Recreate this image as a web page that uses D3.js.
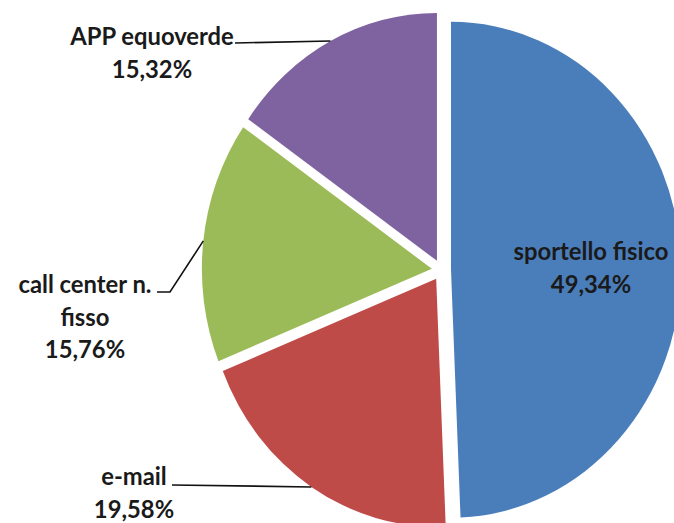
<!DOCTYPE html>
<html>
<head>
<meta charset="utf-8">
<script src="https://cdn.jsdelivr.net/npm/d3@7"></script>
<style>
  body { margin: 0; background: #fff; }
  svg { display: block; }
  .lbl { font-family: Lato, "Open Sans", sans-serif; font-weight: bold; fill: #1a1a1a; }
</style>
</head>
<body>
<svg id="chart"></svg>
<script>
// data
var categories = ["sportello fisico", "e-mail", "call center n. fisso", "APP equoverde"];
var labelLines = [["sportello fisico"], ["e-mail"], ["call center n.", "fisso"], ["APP equoverde"]];
var values = [49.34, 19.58, 15.76, 15.32];
var colors = ["#4a7ebb", "#be4b48", "#9bbb59", "#7f63a1"];

var width = 674, height = 523,
    cx = 441.4, cy = 270,
    radius = 230, stretchY = 1.078,
    explode = 9.6,
    lineH = 32.5,
    fontSize = 23.8;

// label placement (page coords): first baseline, centre; elbow points of the leader
var labelLayout = [
  {x: 591, y: 260, leader: null},
  {x: 134, y: 485, leader: [[172, 485]]},
  {x: 85,  y: 293, leader: [[170, 292], [157, 292]]},
  {x: 152, y: 45,  leader: [[235, 43]]}
];

var svg = d3.select("#chart").attr("width", width).attr("height", height);

var pie = d3.pie().sort(null).value(function(d) { return d; });
var arcs = pie(values);

var arc = d3.arc().innerRadius(0).outerRadius(radius);
var edge = d3.arc().innerRadius(radius).outerRadius(radius);

function offset(d) {
  var a = (d.startAngle + d.endAngle) / 2;
  return [explode * Math.sin(a), -explode * Math.cos(a)];
}

var g = svg.append("g")
    .attr("transform", "translate(" + cx + "," + cy + ") scale(1," + stretchY + ")");

g.selectAll("path.slice")
  .data(arcs)
  .enter().append("path")
    .attr("class", "slice")
    .attr("transform", function(d) { var o = offset(d); return "translate(" + o[0] + "," + o[1] + ")"; })
    .attr("d", arc)
    .attr("fill", function(d, i) { return colors[i]; });

// leader lines, from the middle of each slice's rim to the label
function rimPoint(d) {
  var o = offset(d), c = edge.centroid(d);
  return [cx + o[0] + c[0], cy + (o[1] + c[1]) * stretchY];
}

var line = d3.line();
svg.selectAll("path.leader")
  .data(arcs.filter(function(d, i) { return labelLayout[i].leader; }))
  .enter().append("path")
    .attr("class", "leader")
    .attr("d", function(d) {
      return line([rimPoint(d)].concat(labelLayout[d.index].leader));
    })
    .attr("fill", "none")
    .attr("stroke", "#111")
    .attr("stroke-width", 1.6);

var fmt = function(v) { return v.toFixed(2).replace(".", ",") + "%"; };

var labels = svg.selectAll("text.lbl")
  .data(arcs)
  .enter().append("text")
    .attr("class", "lbl")
    .attr("text-anchor", "middle")
    .attr("font-size", fontSize)
    .attr("x", function(d) { return labelLayout[d.index].x; })
    .attr("y", function(d) { return labelLayout[d.index].y; });

labels.each(function(d) {
  var t = d3.select(this), L = labelLayout[d.index];
  var lines = labelLines[d.index].concat([fmt(values[d.index])]);
  lines.forEach(function(s, k) {
    t.append("tspan").attr("x", L.x).attr("y", L.y + k * lineH).text(s);
  });
});
</script>
</body>
</html>
